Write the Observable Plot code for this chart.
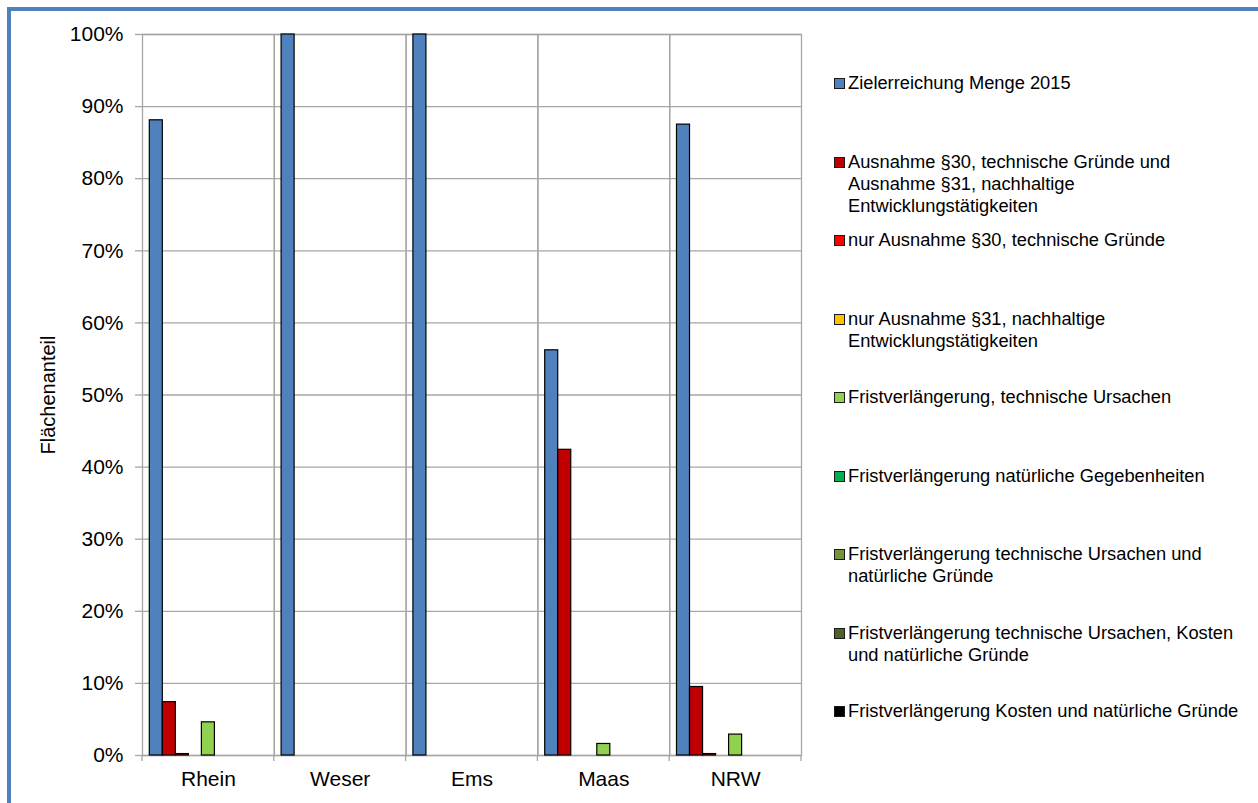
<!DOCTYPE html>
<html>
<head>
<meta charset="utf-8">
<script src="https://cdn.jsdelivr.net/npm/d3@7"></script>
<script src="https://cdn.jsdelivr.net/npm/@observablehq/plot@0.6"></script>
<style>
  html, body { margin: 0; padding: 0; background: #fff; }
  body { width: 1258px; height: 803px; position: relative; overflow: hidden;
         font-family: "Liberation Sans", Arial, sans-serif; color: #000; }
  #border { position: absolute; left: 7px; top: 7px; width: 1300px; height: 900px;
            border: 4px solid #4F81BD; box-sizing: border-box; }
  #chart { position: absolute; left: 0; top: 0; }
  #chart svg text { font-family: "Liberation Sans", Arial, sans-serif; font-size: 21px; fill: #000; }
  #chart svg [aria-label^="y-axis"] line,
  #chart svg [aria-label="y-axis tick"] path { stroke: #a6a6a6; stroke-width: 1.3; }
  #ylabel { position: absolute; left: 48px; top: 395px; white-space: nowrap;
            font-size: 20px; transform: translate(-50%, -50%) rotate(-90deg); }
  #legend { position: absolute; left: 834px; top: 72px; }
  .item { height: 78.5px; position: relative; }
  .swatch { position: absolute; left: 0; top: 6px; width: 11px; height: 11px;
            box-sizing: border-box; border: 1.5px solid #1a1a1a; }
  .label { position: absolute; left: 14px; top: 0; font-size: 18.3px; line-height: 22px; white-space: nowrap; }
</style>
</head>
<body>
<div id="border"></div>
<div id="chart"></div>
<div id="ylabel"></div>
<div id="legend"></div>
<script>
// ---- data ----
const categories = ["Rhein", "Weser", "Ems", "Maas", "NRW"];
const seriesNames = [
  "Zielerreichung Menge 2015",
  "Ausnahme §30, technische Gründe und\nAusnahme §31, nachhaltige\nEntwicklungstätigkeiten",
  "nur Ausnahme §30, technische Gründe",
  "nur Ausnahme §31, nachhaltige\nEntwicklungstätigkeiten",
  "Fristverlängerung, technische Ursachen",
  "Fristverlängerung natürliche Gegebenheiten",
  "Fristverlängerung technische Ursachen und\nnatürliche Gründe",
  "Fristverlängerung technische Ursachen, Kosten\nund natürliche Gründe",
  "Fristverlängerung Kosten und natürliche Gründe"
];
const seriesColors = ["#4F81BD", "#C00000", "#FF0000", "#FFC000", "#92D050", "#00B050", "#77933C", "#4F6228", "#000000"];

const zielerreichung   = [0.881, 1.000, 1.000, 0.562, 0.875];
const ausnahme30und31  = [0.074, 0, 0, 0.424, 0.095];
const nurAusnahme30    = [0.002, 0, 0, 0, 0.002];
const nurAusnahme31    = [0, 0, 0, 0, 0];
const fristTechnisch   = [0.046, 0, 0, 0.016, 0.029];
const fristNatuerlich  = [0, 0, 0, 0, 0];
const fristTechNat     = [0, 0, 0, 0, 0];
const fristTechKostNat = [0, 0, 0, 0, 0];
const fristKostNat     = [0, 0, 0, 0, 0];
const seriesValues = [zielerreichung, ausnahme30und31, nurAusnahme30, nurAusnahme31,
  fristTechnisch, fristNatuerlich, fristTechNat, fristTechKostNat, fristKostNat];

const yTicks = [0, 0.1, 0.2, 0.3, 0.4, 0.5, 0.6, 0.7, 0.8, 0.9, 1.0];
const yTitle = "Flächenanteil";

// ---- table ----
const data = categories.flatMap((c, ci) =>
  seriesNames.map((s, si) => ({category: c, series: s, value: seriesValues[si][ci]}))
).filter(d => d.value > 0);

const plot = Plot.plot({
  width: 812,
  height: 795,
  marginLeft: 142,
  marginRight: 11,
  marginTop: 34,
  marginBottom: 40,
  style: {fontFamily: "'Liberation Sans', Arial, sans-serif", fontSize: "21px", color: "#000", background: "transparent", overflow: "visible"},
  facet: {data, x: "category"},
  fx: {domain: categories, padding: 0, round: false, label: null, axis: "bottom", tickSize: 0, tickPadding: 16},
  x: {domain: seriesNames, paddingInner: 0, paddingOuter: 0.56, round: false, axis: null},
  y: {domain: [0, 1], ticks: yTicks, tickFormat: ".0%", tickSize: 7, tickPadding: 12, label: null},
  color: {domain: seriesNames, range: seriesColors},
  marks: [
    Plot.ruleY(yTicks, {stroke: "#a6a6a6", strokeWidth: 1.3}),
    Plot.frame({stroke: "#a6a6a6", strokeWidth: 1.3}),
    Plot.barY(data, {x: "series", y: "value", fill: "series", stroke: "#000", strokeWidth: 1.2})
  ]
});
document.getElementById("chart").appendChild(plot);

// tick marks at category boundaries below the baseline, from the fx / y scales
try {
  const fxs = plot.scale("fx");
  const ys = plot.scale("y");
  const base = Math.max(...ys.range);
  const [r0, r1] = fxs.range;
  const step = (r1 - r0) / fxs.domain.length;
  const svg = d3.select(plot.tagName === "svg" ? plot : plot.querySelector("svg"));
  svg.append("g").selectAll("line").data(d3.range(fxs.domain.length + 1)).join("line")
    .attr("x1", i => r0 + i * step).attr("x2", i => r0 + i * step)
    .attr("y1", base).attr("y2", base + 6)
    .attr("stroke", "#a6a6a6").attr("stroke-width", 1.3);
} catch (e) { console.error(e); }

document.getElementById("ylabel").textContent = yTitle;

// legend
const legend = d3.select("#legend");
const items = legend.selectAll(".item").data(seriesNames).join("div").attr("class", "item");
items.append("div").attr("class", "swatch").style("background", (d, i) => seriesColors[i]);
items.append("div").attr("class", "label").html(d => d.split("\n").map(t => t.replace(/&/g, "&amp;").replace(/</g, "&lt;")).join("<br>"));
</script>
</body>
</html>
